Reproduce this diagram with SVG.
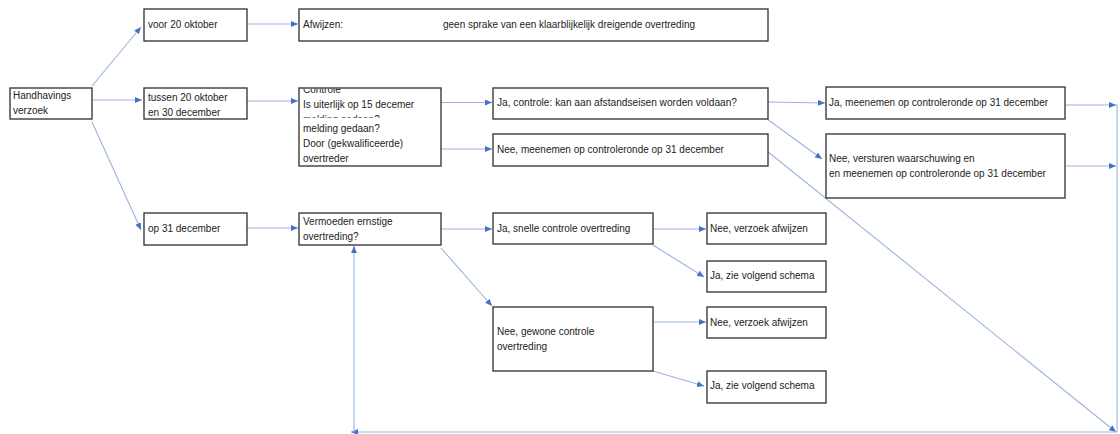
<svg xmlns="http://www.w3.org/2000/svg" width="1120" height="434" viewBox="0 0 1120 434">
<style>
.box{fill:#fff;stroke:#3c3c3c;stroke-width:1.4}
.t{font-family:"Liberation Sans",Arial,sans-serif;font-size:10px;fill:#222}
.c{fill:none;stroke:#9bb3e0;stroke-width:1.1}
.a{marker-end:url(#ah)}
</style>
<defs>
<marker id="ah" markerUnits="userSpaceOnUse" markerWidth="8" markerHeight="7" refX="7" refY="3" orient="auto">
<path d="M0,0 L7,3 L0,6 z" fill="#4472c4"/>
</marker>
<clipPath id="clipA"><rect x="299" y="88.7" width="142" height="29"/></clipPath>
</defs>
<rect width="1120" height="434" fill="#fff"/>
<g id="connectors">
<path class="c a" d="M92,86 L141,27"/>
<path class="c a" d="M92,100 L142,100"/>
<path class="c a" d="M92,122 L141,230"/>
<path class="c a" d="M247,24 L298,24"/>
<path class="c a" d="M247,101 L298,101"/>
<path class="c a" d="M441,102.5 L492,102.5"/>
<path class="c a" d="M441,149 L492,149"/>
<path class="c a" d="M768,102 L825,103"/>
<path class="c a" d="M767,119 L822,159"/>
<path class="c a" d="M767,151 L1116,432"/>
<path class="c a" d="M1066,105 L1116,105"/>
<path class="c a" d="M1066,166 L1116,166"/>
<path class="c" d="M1117,104 L1117,432"/>
<path class="c a" d="M1117,432 L351,432"/>
<path class="c a" d="M354,432 L354,246"/>
<path class="c a" d="M247,228 L298,228"/>
<path class="c a" d="M441,229 L492,229"/>
<path class="c a" d="M441,248 L492,306"/>
<path class="c a" d="M653,229 L706,229"/>
<path class="c a" d="M653,245 L704,277"/>
<path class="c a" d="M653,322 L706,322"/>
<path class="c a" d="M653,371 L704,386"/>
</g>
<g id="n-handhavings">
<rect class="box" x="10" y="88" width="82" height="31"/>
<text class="t" x="13" y="99">Handhavings</text>
<text class="t" x="13" y="114">verzoek</text>
</g>
<g id="n-voor">
<rect class="box" x="144" y="9" width="103" height="32"/>
<text class="t" x="148" y="28">voor 20 oktober</text>
</g>
<g id="n-afwijzen">
<rect class="box" x="299" y="9" width="469" height="32"/>
<text class="t" x="303" y="28">Afwijzen:</text>
<text class="t" x="443" y="28" textLength="252" lengthAdjust="spacingAndGlyphs">geen sprake van een klaarblijkelijk dreigende overtreding</text>
</g>
<g id="n-tussen">
<rect class="box" x="144" y="88" width="103" height="31"/>
<text class="t" x="148" y="100.5">tussen 20 oktober</text>
<text class="t" x="148" y="115.5">en 30 december</text>
</g>
<g id="n-controle">
<rect class="box" x="299" y="88" width="142" height="78"/>
<g clip-path="url(#clipA)">
<text class="t" x="303" y="92.5">Controle</text>
<text class="t" x="303" y="107.5">Is uiterlijk op 15 decemer</text>
<text class="t" x="303" y="122.5">melding gedaan?</text>
</g>
<text class="t" x="303" y="131.5">melding gedaan?</text>
<text class="t" x="303" y="146.5">Door (gekwalificeerde)</text>
<text class="t" x="303" y="161.5">overtreder</text>
</g>
<g id="n-ja-controle">
<rect class="box" x="493" y="88" width="275" height="31"/>
<text class="t" x="497" y="106" textLength="240" lengthAdjust="spacingAndGlyphs">Ja, controle: kan aan afstandseisen worden voldaan?</text>
</g>
<g id="n-nee-meenemen">
<rect class="box" x="493" y="134" width="275" height="32"/>
<text class="t" x="497" y="152.5">Nee, meenemen op controleronde op 31 december</text>
</g>
<g id="n-ja-meenemen">
<rect class="box" x="826" y="87" width="239" height="32"/>
<text class="t" x="829" y="105.5">Ja, meenemen op controleronde op 31 december</text>
</g>
<g id="n-nee-versturen">
<rect class="box" x="826" y="134" width="239" height="64"/>
<text class="t" x="829" y="162">Nee, versturen waarschuwing en</text>
<text class="t" x="829" y="176.5">en meenemen op controleronde op 31 december</text>
</g>
<g id="n-op31">
<rect class="box" x="144" y="213" width="103" height="32"/>
<text class="t" x="148" y="232">op 31 december</text>
</g>
<g id="n-vermoeden">
<rect class="box" x="299" y="213" width="142" height="32"/>
<text class="t" x="303" y="224.5">Vermoeden ernstige</text>
<text class="t" x="303" y="239.5">overtreding?</text>
</g>
<g id="n-ja-snelle">
<rect class="box" x="493" y="213" width="160" height="31"/>
<text class="t" x="497" y="232">Ja, snelle controle overtreding</text>
</g>
<g id="n-nee-verzoek-1">
<rect class="box" x="707" y="213" width="119" height="31"/>
<text class="t" x="710" y="231.5">Nee, verzoek afwijzen</text>
</g>
<g id="n-ja-zie-1">
<rect class="box" x="707" y="261" width="119" height="31"/>
<text class="t" x="710" y="279">Ja, zie volgend schema</text>
</g>
<g id="n-nee-gewone">
<rect class="box" x="493" y="307" width="160" height="64"/>
<text class="t" x="497" y="335">Nee, gewone controle</text>
<text class="t" x="497" y="350">overtreding</text>
</g>
<g id="n-nee-verzoek-2">
<rect class="box" x="707" y="307" width="119" height="31"/>
<text class="t" x="710" y="325.5">Nee, verzoek afwijzen</text>
</g>
<g id="n-ja-zie-2">
<rect class="box" x="707" y="371" width="119" height="32"/>
<text class="t" x="710" y="389">Ja, zie volgend schema</text>
</g>
</svg>
